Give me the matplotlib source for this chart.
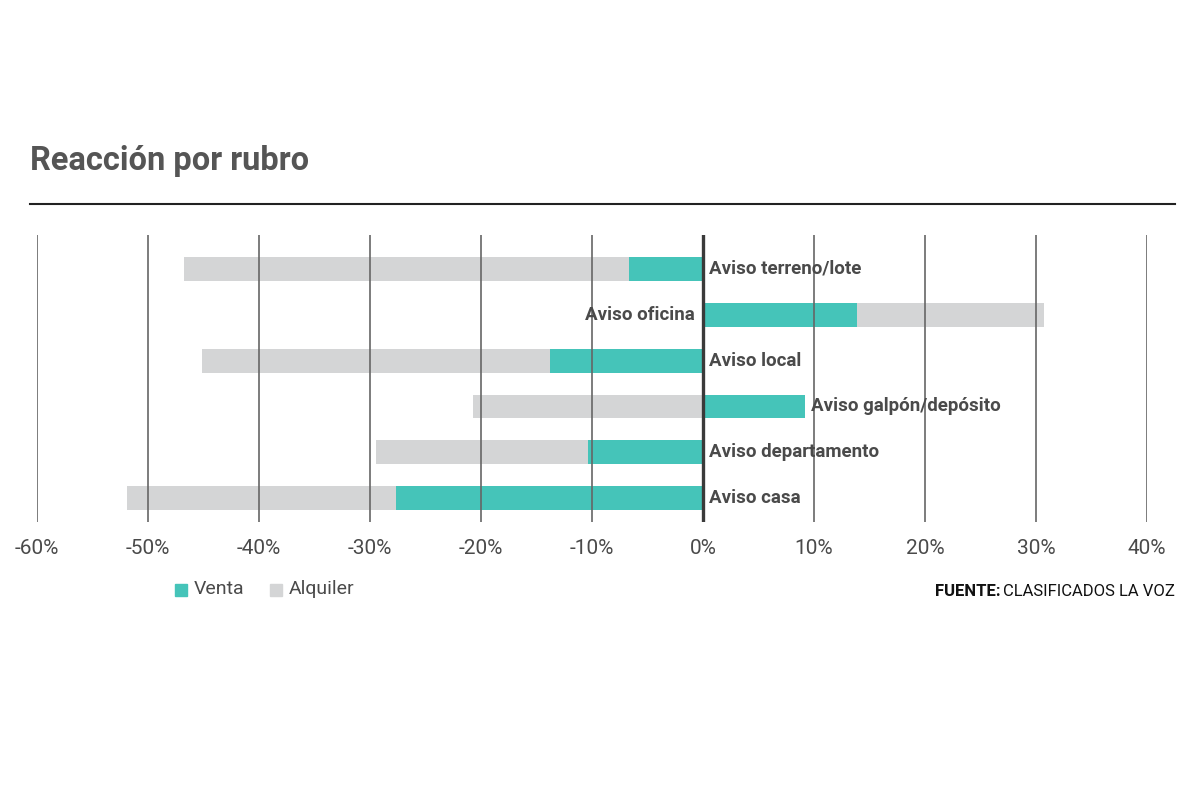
import matplotlib
matplotlib.use("Agg")
from matplotlib import pyplot as plt
from matplotlib.patches import Rectangle

# data (percent)
rubros = ["Aviso terreno/lote", "Aviso oficina", "Aviso local",
          "Aviso galpón/depósito", "Aviso departamento", "Aviso casa"]
venta = [-6.7, 13.9, -13.8, 9.2, -10.4, -27.7]
alquiler = [-46.8, 30.7, -45.1, -20.7, -29.5, -51.9]
ticks = [-60, -50, -40, -30, -20, -10, 0, 10, 20, 30, 40]

teal = "#45c4b9"
gris = "#d4d5d6"
texto = "#4a4a4a"
plt.rcParams['font.family'] = ['Roboto', 'DejaVu Sans']

fig = plt.figure(figsize=(12, 8), dpi=100)
ax = fig.add_axes([37/1200, 1 - 522/800, 1110/1200, 287/800])

y = list(range(len(rubros)))
ax.barh(y, alquiler, height=0.52, color=gris, zorder=1)
ax.barh(y, venta, height=0.52, color=teal, zorder=2)

ax.set_xlim(-60, 40)
ax.set_ylim(len(rubros) - 1 + 0.52, -0.74)

for t in ticks:
    if t == 0:
        ax.axvline(t, color="#3a3a3a", lw=2.4, zorder=4)
    else:
        ax.axvline(t, color="#666666", lw=1.2, zorder=3)

ax.set_xticks(ticks)
ax.set_xticklabels([f"{t}%" for t in ticks], fontsize=15, color=texto)
ax.tick_params(axis="x", length=0, pad=12)
ax.set_yticks([])
for s in ax.spines.values():
    s.set_visible(False)

# category labels next to the zero line
for i, name in enumerate(rubros):
    if venta[i] > 0 and alquiler[i] > 0:
        ax.text(-0.7, i, name, ha="right", va="center", fontsize=13.5,
                fontweight="bold", color=texto, zorder=5)
    else:
        ax.text(max(venta[i], 0) + 0.5, i, name, ha="left", va="center",
                fontsize=13.5, fontweight="bold", color=texto, zorder=5)

# title and rule
fig.text(30/1200, 1 - 161/800, "Reacción por rubro", fontsize=23.5,
         fontweight="bold", color="#555555", va="center", ha="left")
fig.add_artist(plt.Line2D([30/1200, 1175/1200], [1 - 204/800, 1 - 204/800],
                          color="#222222", lw=1.5))

# legend
fig.add_artist(Rectangle((175/1200, 1 - 596/800), 12/1200, 12/800, color=teal))
fig.text(194/1200, 1 - 589/800, "Venta", fontsize=14, color=texto, va="center")
fig.add_artist(Rectangle((270/1200, 1 - 596/800), 12/1200, 12/800, color=gris))
fig.text(289/1200, 1 - 589/800, "Alquiler", fontsize=14, color=texto, va="center")

# source
src = fig.text(1175/1200, 1 - 591/800, "CLASIFICADOS LA VOZ", fontsize=12,
               color="#111111", va="center", ha="right")
fig.canvas.draw()
bb = src.get_window_extent()
fig.text(bb.x0 / 1200 - 3/1200, 1 - 591/800, "FUENTE:", fontsize=12,
         fontweight="bold", color="#111111", va="center", ha="right")

fig.savefig("out.png", dpi=100, facecolor="white")
